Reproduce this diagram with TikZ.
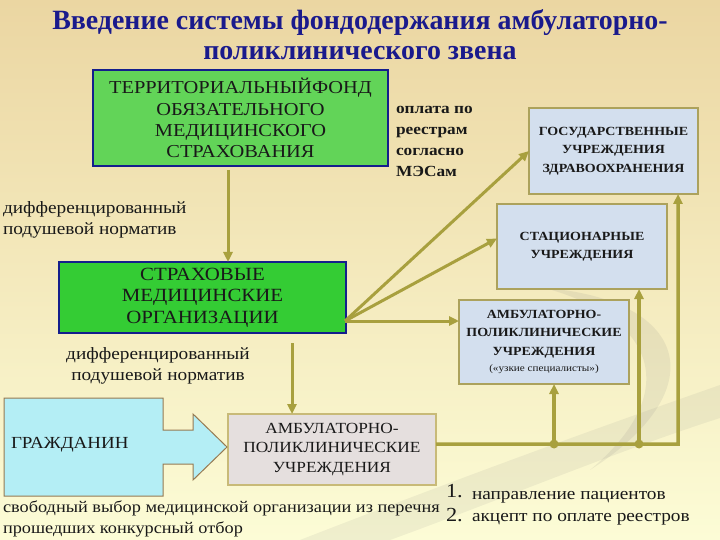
\documentclass[tikz,border=0pt]{standalone}
\usepackage{fontspec}
\setmainfont[FakeStretch=1.12]{Liberation Serif}
\newfontfamily\titlefont{Liberation Serif}
\usetikzlibrary{arrows.meta}
\definecolor{titleblue}{RGB}{26,26,140}
\definecolor{tfgreen}{RGB}{98,212,88}
\definecolor{smogreen}{RGB}{52,204,52}
\definecolor{navyline}{RGB}{20,30,140}
\definecolor{boxblue}{RGB}{211,223,238}
\definecolor{boxolive}{RGB}{172,162,92}
\definecolor{ambfill}{RGB}{229,223,222}
\definecolor{ambline}{RGB}{200,186,120}
\definecolor{citfill}{RGB}{180,238,245}
\definecolor{citline}{RGB}{150,122,82}
\definecolor{arrolive}{RGB}{168,160,62}
\definecolor{bgtop}{RGB}{235,214,162}
\definecolor{bgmid}{RGB}{248,244,200}
\definecolor{bgbot}{RGB}{252,252,214}
\definecolor{txt}{RGB}{25,25,25}
\begin{document}
\begin{tikzpicture}[x=1bp,y=-1bp,
  every node/.style={inner sep=0pt,outer sep=0pt,text=txt},
  greenbox/.style={draw=navyline,line width=2.2bp,align=center},
  bluebox/.style={draw=boxolive,line width=2bp,fill=boxblue,align=center,
    font=\bfseries\fontsize{12.5}{18.5}\selectfont},
  plain/.style={align=left,font=\fontsize{17.3}{21}\selectfont},
  arr/.style={draw=arrolive,line width=3bp,-{Triangle[length=10bp,width=9bp]}},
  conn/.style={draw=arrolive,line width=3.5bp}]
\useasboundingbox (0,0) rectangle (720,540);
\shade[top color=bgtop,middle color=bgmid,bottom color=bgbot] (0,0) rectangle (720,540);
% faint background swoosh
\fill[gray,opacity=0.12] (545,288) .. controls (690,300) and (715,390) .. (590,470)
   .. controls (680,395) and (660,320) .. (545,288) -- cycle;
\fill[gray,opacity=0.10] (300,540) .. controls (480,470) and (620,420) .. (720,385)
   -- (720,418) .. controls (620,450) and (500,500) .. (390,540) -- cycle;

% title
\node[font=\titlefont\bfseries\fontsize{28}{28}\selectfont,text=titleblue] (t1) at (360,23)
  {Введение системы фондодержания амбулаторно-};
\node[font=\titlefont\bfseries\fontsize{28}{28}\selectfont,text=titleblue] (t2) at (360,53)
  {поликлинического звена};

% boxes
\node[greenbox,fill=tfgreen,minimum width=295bp,minimum height=96bp,
  font=\fontsize{18.3}{21.2}\selectfont] (tfoms) at (240.5,118)
  {ТЕРРИТОРИАЛЬНЫЙФОНД\\ОБЯЗАТЕЛЬНОГО\\МЕДИЦИНСКОГО\\СТРАХОВАНИЯ};
\node[greenbox,fill=smogreen,minimum width=287bp,minimum height=71bp,
  font=\fontsize{18.7}{21.5}\selectfont] (smo) at (202.5,297.5)
  {СТРАХОВЫЕ\\МЕДИЦИНСКИЕ\\ОРГАНИЗАЦИИ};
\node[bluebox,minimum width=169bp,minimum height=86bp] (gos) at (613.5,151)
  {ГОСУДАРСТВЕННЫЕ\\УЧРЕЖДЕНИЯ\\ЗДРАВООХРАНЕНИЯ};
\node[bluebox,minimum width=170bp,minimum height=85bp] (stac) at (582,246.5)
  {СТАЦИОНАРНЫЕ\\УЧРЕЖДЕНИЯ};
\node[bluebox,minimum width=170bp,minimum height=84bp] (amb1) at (544,342)
  {АМБУЛАТОРНО-\\ПОЛИКЛИНИЧЕСКИЕ\\УЧРЕЖДЕНИЯ\\[-2bp]{\mdseries\fontsize{10}{12}\selectfont(«узкие специалисты»)}};
\node[draw=ambline,line width=2bp,fill=ambfill,minimum width=208bp,minimum height=71bp,
  align=center,font=\fontsize{15.5}{19.5}\selectfont] (amb2) at (332,449.5)
  {АМБУЛАТОРНО-\\ПОЛИКЛИНИЧЕСКИЕ\\УЧРЕЖДЕНИЯ};

% citizen block arrow
\draw[citline,line width=1bp,fill=citfill] (4,398) -- (163,398) -- (163,430) -- (193,430)
  -- (193,414) -- (227,447) -- (193,480) -- (193,464) -- (163,464) -- (163,496)
  -- (4,496) -- cycle;
\node[anchor=west,font=\fontsize{17}{20}\selectfont] (cit) at (11,445) {ГРАЖДАНИН};

% free texts
\node[anchor=north west,font=\bfseries\fontsize{15.5}{21.3}\selectfont,align=left] (pay) at (396,106)
  {оплата по\\реестрам\\согласно\\МЭСам};
\node[anchor=north west,plain] (diff1) at (3,202)
  {дифференцированный\\подушевой норматив};
\node[anchor=north,plain,align=center] (diff2) at (158,348)
  {дифференцированный\\подушевой норматив};
\node[anchor=north west,plain,font=\fontsize{16.4}{21}\selectfont] (free) at (3,501)
  {свободный выбор медицинской организации из перечня\\прошедших конкурсный отбор};
\node[anchor=west,font=\fontsize{20}{20}\selectfont] (n1) at (446,491) {1.};
\node[anchor=west,font=\fontsize{20}{20}\selectfont] (n2) at (446,515) {2.};
\node[anchor=west,plain] (l1) at (472,497) {направление пациентов};
\node[anchor=west,plain] (l2) at (472,519) {акцепт по оплате реестров};

% connectors
\draw[arr] ([xshift=-12.5bp,yshift=-4bp]tfoms.south) -- ([xshift=-12.5bp]tfoms.south |- smo.north);
\coordinate (fan) at (345,321);
\draw[arr] (fan) -- (gos.west);
\draw[arr] (fan) -- ([yshift=8bp]stac.west);
\draw[arr] (fan) -- (fan -| amb1.west);
\draw[arr] ([xshift=89.5bp,yshift=-10bp]smo.south) -- ([xshift=89.5bp]smo.south |- amb2.north);

\coordinate (d1) at (554,444);
\coordinate (d2) at (639,444);
\coordinate (c3) at (678,444);
\draw[conn,-{Triangle[length=10bp,width=9bp]}] ([yshift=5.5bp]amb2.east) -- (c3) -- (c3 |- gos.south);
\draw[arr,line width=3.5bp] (d1) -- (d1 |- amb1.south);
\draw[arr,line width=3.5bp] (d2) -- (d2 |- stac.south);
\fill[arrolive] (d1) circle (4.5bp) (d2) circle (4.5bp);
\end{tikzpicture}
\end{document}
